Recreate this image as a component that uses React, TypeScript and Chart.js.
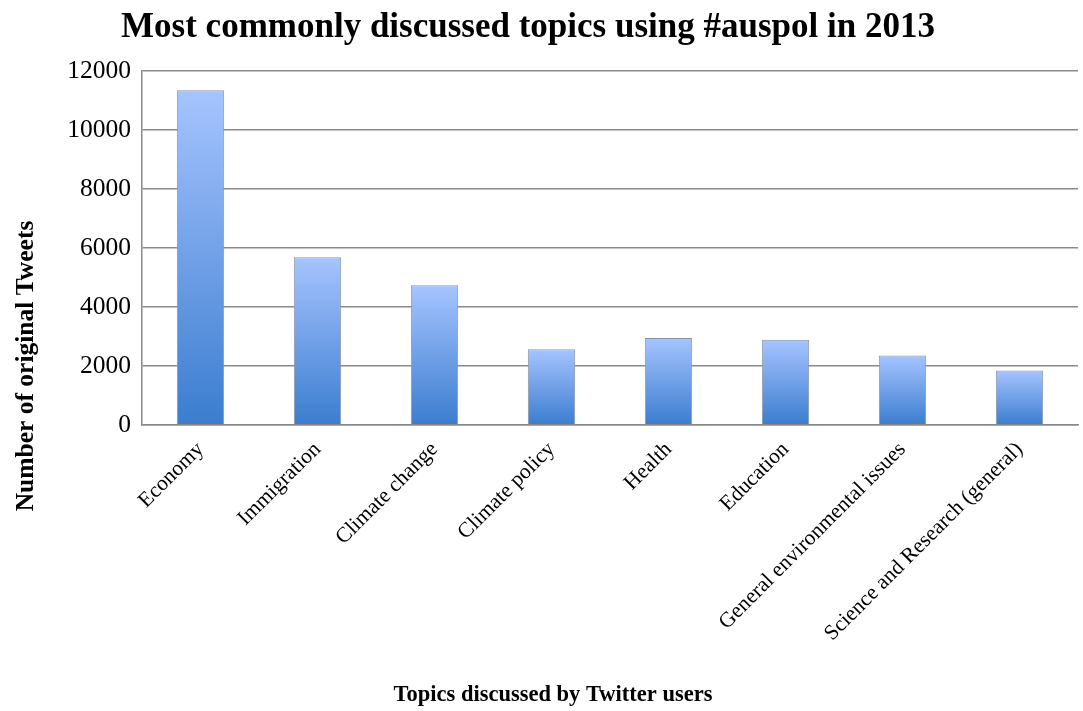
import React, { useEffect, useRef } from "react";
import { Chart, registerables } from "chart.js";

Chart.register(...registerables);

const categories: string[] = [
  "Economy",
  "Immigration",
  "Climate change",
  "Climate policy",
  "Health",
  "Education",
  "General environmental issues",
  "Science and Research (general)",
];
const tweetCounts: number[] = [11350, 5690, 4740, 2570, 2950, 2890, 2360, 1850];
const yTicks: number[] = [0, 2000, 4000, 6000, 8000, 10000, 12000];

const chartTitle = "Most commonly discussed topics using #auspol in 2013";
const yAxisTitle = "Number of original Tweets";
const xAxisTitle = "Topics discussed by Twitter users";

const SERIF = "'Liberation Serif', 'Times New Roman', serif";

const barGradient = (c: any) => {
  const chart = c.chart;
  const ys = chart.scales && chart.scales.y;
  if (!ys || !chart.chartArea || c.dataIndex === undefined) return "#6f9fe6";
  const top = ys.getPixelForValue(tweetCounts[c.dataIndex]);
  const bottom = ys.getPixelForValue(0);
  if (!isFinite(top) || !isFinite(bottom)) return "#6f9fe6";
  const g = chart.ctx.createLinearGradient(0, top, 0, bottom);
  g.addColorStop(0, "#a6c4ff");
  g.addColorStop(1, "#3b7dcf");
  return g;
};

const textPlugin = {
  id: "textPlugin",
  afterDraw(chart: any) {
    const ctx = chart.ctx;
    ctx.save();
    ctx.fillStyle = "#000";
    ctx.textAlign = "center";
    ctx.textBaseline = "middle";
    ctx.font = `bold 35px ${SERIF}`;
    ctx.fillText(chartTitle, 528, 28);
    ctx.font = `bold 22.5px ${SERIF}`;
    ctx.fillText(xAxisTitle, 553, 695);
    ctx.translate(26, 366);
    ctx.rotate(-Math.PI / 2);
    ctx.font = `bold 25.5px ${SERIF}`;
    ctx.fillText(yAxisTitle, 0, 0);
    ctx.restore();
  },
};

export default function App() {
  const ref = useRef<HTMLCanvasElement | null>(null);
  useEffect(() => {
    if (!ref.current) return;
    const chart = new Chart(ref.current, {
      type: "bar",
      data: {
        labels: categories,
        datasets: [
          {
            data: tweetCounts,
            backgroundColor: barGradient,
            borderColor: "#8a94a6",
            borderWidth: 1,
            barPercentage: 0.405,
            categoryPercentage: 1,
          },
        ],
      },
      plugins: [textPlugin],
      options: {
        responsive: true,
        maintainAspectRatio: false,
        animation: false,
        layout: { padding: { top: 71, left: 0, right: 5, bottom: 0 } },
        plugins: {
          legend: { display: false },
          title: { display: false },
          tooltip: { enabled: false },
        },
        scales: {
          x: {
            grid: { display: false },
            border: { display: true, color: "#8a8a8a", width: 1.5 },
            ticks: {
              autoSkip: false,
              minRotation: 45,
              maxRotation: 45,
              color: "#000",
              padding: 4,
              font: { family: SERIF, size: 21.5 },
            },
            afterFit: (s: any) => {
              s.height = 286;
            },
          },
          y: {
            min: 0,
            max: 12000,
            afterBuildTicks: (s: any) => {
              s.ticks = yTicks.map((v) => ({ value: v }));
            },
            grid: { color: "#8a8a8a", lineWidth: 1.5, drawTicks: false },
            border: { display: true, color: "#8a8a8a", width: 1.5 },
            ticks: {
              color: "#000",
              padding: 11,
              font: { family: SERIF, size: 25.5 },
              callback: (v: any) => String(v),
            },
            afterFit: (s: any) => {
              s.width = 142;
            },
          },
        },
      },
    });
    return () => chart.destroy();
  }, []);
  return (
    <div style={{ position: "absolute", left: 0, top: 0, width: 1083, height: 711, background: "#fff" }}>
      <canvas ref={ref} />
    </div>
  );
}
